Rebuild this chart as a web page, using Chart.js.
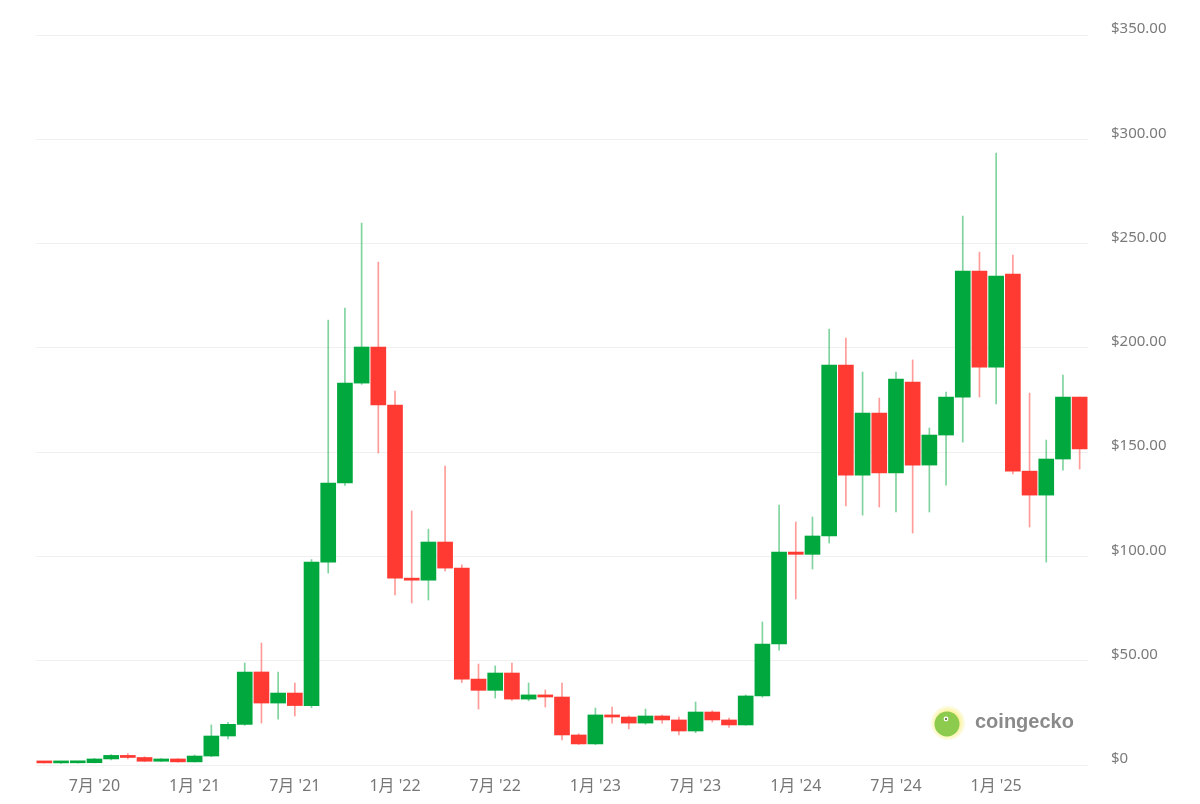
<!DOCTYPE html>
<html>
<head>
<meta charset="utf-8">
<script src="https://cdn.jsdelivr.net/npm/chart.js@4.4.0/dist/chart.umd.min.js"></script>
<style>
  html, body { margin: 0; padding: 0; background: #ffffff; }
  #wrap { width: 1200px; height: 804px; position: relative; }
</style>
</head>
<body>
<div id="wrap"><canvas id="c" width="1200" height="804"></canvas></div>
<script>
// Monthly candles, Apr 2020 – Jun 2025
const months = [
  "2020-04","2020-05","2020-06","2020-07","2020-08","2020-09","2020-10","2020-11","2020-12",
  "2021-01","2021-02","2021-03","2021-04","2021-05","2021-06","2021-07","2021-08","2021-09","2021-10","2021-11","2021-12",
  "2022-01","2022-02","2022-03","2022-04","2022-05","2022-06","2022-07","2022-08","2022-09","2022-10","2022-11","2022-12",
  "2023-01","2023-02","2023-03","2023-04","2023-05","2023-06","2023-07","2023-08","2023-09","2023-10","2023-11","2023-12",
  "2024-01","2024-02","2024-03","2024-04","2024-05","2024-06","2024-07","2024-08","2024-09","2024-10","2024-11","2024-12",
  "2025-01","2025-02","2025-03","2025-04","2025-05","2025-06"
];
const opens = [
  1.3,1.0,1.05,1.1,2.9,4.6,3.6,1.8,2.9,
  1.5,4.3,13.9,19.5,44.6,29.7,34.5,28.5,97.3,135.2,183.1,200.4,
  172.6,89.6,88.6,106.9,94.4,41.2,35.8,44.1,31.6,33.6,32.6,14.4,
  10.1,24.0,23.0,20.1,23.5,21.6,16.3,25.4,21.6,19.2,33.1,58.0,
  102.1,101.0,109.8,191.8,139.0,168.7,140.0,183.6,143.8,158.2,176.4,236.8,
  190.8,235.4,140.9,129.4,146.7,176.4
];
const highs = [
  1.6,1.2,1.3,3.2,5.0,5.5,4.0,3.1,3.1,
  4.8,19.2,20.5,48.9,58.5,44.6,39.3,98.5,213.3,219.1,259.8,241.1,
  179.3,121.8,113.1,143.3,96.0,48.4,47.5,48.9,39.3,36.0,39.3,15.0,
  27.3,27.8,23.5,26.8,24.0,23.0,30.2,26.0,22.5,33.6,68.6,124.6,
  116.5,118.9,209.0,204.7,188.4,175.9,188.4,194.2,161.6,178.8,263.2,245.9,
  293.4,244.5,178.3,155.8,187.0,176.4
];
const lows = [
  0.9,0.8,0.9,1.0,2.4,2.9,1.6,1.6,1.3,
  1.4,4.0,12.5,19.0,20.1,22.0,23.5,27.5,92.0,134.0,182.5,149.6,
  81.5,77.7,79.1,93.0,39.5,26.8,32.1,31.0,30.8,27.8,12.0,9.8,
  9.8,20.1,17.3,19.5,20.0,14.4,15.5,20.6,18.0,19.0,32.5,55.1,
  79.6,94.0,106.4,124.2,119.8,123.7,121.3,111.2,121.3,134.2,154.8,176.4,
  173.1,139.5,114.1,97.3,141.4,141.9
];
const closes = [
  1.0,1.05,1.1,2.9,4.6,3.6,1.8,2.9,1.5,
  4.3,13.9,19.5,44.6,29.7,34.5,28.5,97.3,135.2,183.1,200.4,172.6,
  89.6,88.6,106.9,94.4,41.2,35.8,44.1,31.6,33.6,32.6,14.4,10.1,
  24.0,23.0,20.1,23.5,21.6,16.3,25.4,21.6,19.2,33.1,58.0,102.1,
  101.0,109.8,191.8,139.0,168.7,140.0,185.0,143.8,158.2,176.4,236.8,190.8,
  234.4,140.9,129.4,146.7,176.4,151.5
];
const yTicks = [0, 50, 100, 150, 200, 250, 300, 350];

const UP = '#00A83E', DOWN = '#FF3A33';
const UP_WICK = 'rgba(0,168,62,0.5)', DOWN_WICK = 'rgba(255,58,51,0.5)';
const isUp = opens.map((o, i) => closes[i] >= o);

const watermark = {
  id: 'watermark',
  afterDraw(chart) {
    const ctx = chart.ctx;
    ctx.save();
    const cx = 948, cy = 723;
    const g = ctx.createRadialGradient(cx, cy, 10, cx, cy, 17);
    g.addColorStop(0, 'rgba(246,236,120,0.95)');
    g.addColorStop(1, 'rgba(250,245,170,0.3)');
    ctx.fillStyle = g;
    ctx.beginPath(); ctx.arc(cx, cy, 17, 0, Math.PI * 2); ctx.fill();
    ctx.fillStyle = '#8dcb4e';
    ctx.beginPath(); ctx.arc(cx - 1, cy + 1, 12.5, 0, Math.PI * 2); ctx.fill();
    ctx.fillStyle = '#ffffff';
    ctx.beginPath(); ctx.arc(cx - 2, cy - 4, 2.4, 0, Math.PI * 2); ctx.fill();
    ctx.fillStyle = '#4c6b2a';
    ctx.beginPath(); ctx.arc(cx - 2, cy - 4, 1.1, 0, Math.PI * 2); ctx.fill();
    ctx.fillStyle = '#8a8a8a';
    ctx.font = 'bold 20px "Liberation Sans", Arial, sans-serif';
    ctx.textBaseline = 'middle';
    ctx.textAlign = 'left';
    ctx.fillText('coingecko', 975, 722);
    ctx.restore();
  }
};

new Chart(document.getElementById('c'), {
  type: 'bar',
  data: {
    labels: months,
    datasets: [
      {
        label: 'wick',
        data: lows.map((l, i) => [l, highs[i]]),
        backgroundColor: isUp.map(u => u ? UP_WICK : DOWN_WICK),
        barThickness: 1,
        grouped: false,
        order: 2
      },
      {
        label: 'body',
        data: opens.map((o, i) => [o, closes[i]]),
        backgroundColor: isUp.map(u => u ? UP : DOWN),
        barThickness: 15,
        minBarLength: 2,
        grouped: false,
        order: 1
      }
    ]
  },
  options: {
    responsive: false,
    animation: false,
    events: [],
    layout: { padding: { left: 36, top: 35, right: 0, bottom: 0 } },
    plugins: { legend: { display: false }, tooltip: { enabled: false } },
    scales: {
      x: {
        type: 'category',
        offset: true,
        grid: { display: false, drawTicks: false },
        border: { display: false },
        ticks: {
          autoSkip: false,
          maxRotation: 0,
          minRotation: 0,
          padding: 12,
          color: '#777777',
          font: { family: '"Noto Sans", "Noto Sans CJK SC", sans-serif', size: 16 },
          callback: function (val, idx) {
            const s = months[idx];
            const m = parseInt(s.slice(5), 10);
            if (m === 1 || m === 7) return m + '月 \'' + s.slice(2, 4);
            return '';
          }
        },
        afterFit: (axis) => { axis.height = 39; }
      },
      y: {
        position: 'right',
        min: 0,
        max: 350,
        afterBuildTicks: (axis) => { axis.ticks = yTicks.map(v => ({ value: v })); },
        grid: { color: '#f0f0f0', drawTicks: false, lineWidth: 1 },
        border: { display: false },
        ticks: {
          padding: 23,
          labelOffset: -6,
          color: '#7a7a7a',
          font: { family: '"Noto Sans", sans-serif', size: 15 },
          callback: (v) => v === 0 ? '$0' : '$' + Number(v).toFixed(2)
        },
        afterFit: (axis) => { axis.width = 112; }
      }
    }
  },
  plugins: [watermark]
});
</script>
</body>
</html>
